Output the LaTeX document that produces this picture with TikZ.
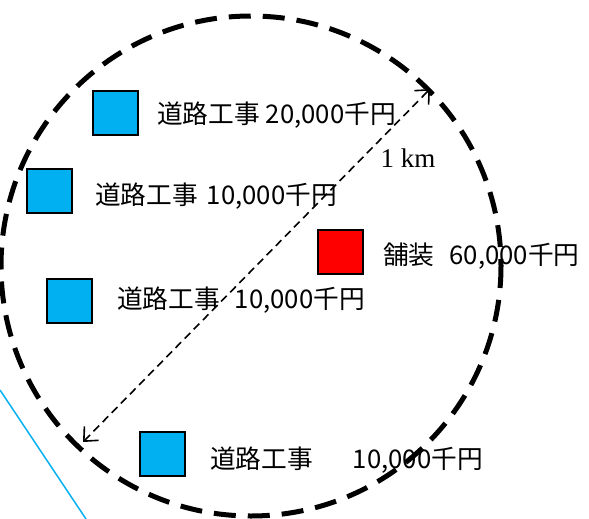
\documentclass[tikz,border=0pt]{standalone}
\usepackage{fontspec}
\newfontfamily\jp{Noto Sans CJK JP}
\newfontfamily\ser{Liberation Serif}
\usetikzlibrary{arrows.meta}
\definecolor{cyanbox}{HTML}{00B0F0}
\definecolor{redbox}{HTML}{FF0000}
\tikzset{
  sitebox/.style={draw=black, line width=2pt, minimum width=45pt, minimum height=44pt, inner sep=0pt},
  lbl/.style={anchor=west, inner sep=0pt, font=\jp\fontsize{25.7}{26}\selectfont},
  bigdash/.style={line width=5pt, dash pattern=on 22pt off 12pt},
  radarrow/.style={line width=1.6pt, dash pattern=on 8pt off 5pt, {Straight Barb[length=11pt,width=20pt,line width=1.6pt]}-{Straight Barb[length=11pt,width=20pt,line width=1.6pt]}}
}
\begin{document}
\begin{tikzpicture}[x=1pt,y=-1pt]
\useasboundingbox (0,0) rectangle (589,519);
\fill[white] (0,0) rectangle (589,519);
% blue line
\coordinate (la) at (0,390);
\coordinate (lb) at (86,519);
\draw[cyanbox, line width=1.5pt] (la) -- (lb);
% big dashed circle
\coordinate (c) at (251,266);
\draw[bigdash] (c) circle (250);
% boxes
\node[sitebox, fill=cyanbox] (b1) at (115,113) {};
\node[sitebox, fill=cyanbox] (b2) at (49,190.5) {};
\node[sitebox, fill=redbox] (b3) at (340.5,252) {};
\node[sitebox, fill=cyanbox] (b4) at (69,300.5) {};
\node[sitebox, fill=cyanbox] (b5) at (162,453.5) {};
% labels
\node[lbl] (t1) at (157,115) {道路工事\hspace{6pt}20,000千円};
\node[lbl] (t2) at (95,196) {道路工事\hspace{9pt}10,000千円};
\node[lbl] (t3) at (383,256) {舗装\hspace{15pt}60,000千円};
\node[lbl] (t4) at (117,300) {道路工事\hspace{15pt}10,000千円};
\node[lbl] (t5) at (210,460) {道路工事\hspace{40pt}10,000千円};
% radius arrow
\coordinate (pa) at (83,442);
\coordinate (pb) at (430,89);
\draw[radarrow] (pa) -- (pb);
\node[inner sep=0pt, font=\ser\fontsize{27}{27}\selectfont] (km) at (408,158) {1 km};
\end{tikzpicture}
\end{document}
